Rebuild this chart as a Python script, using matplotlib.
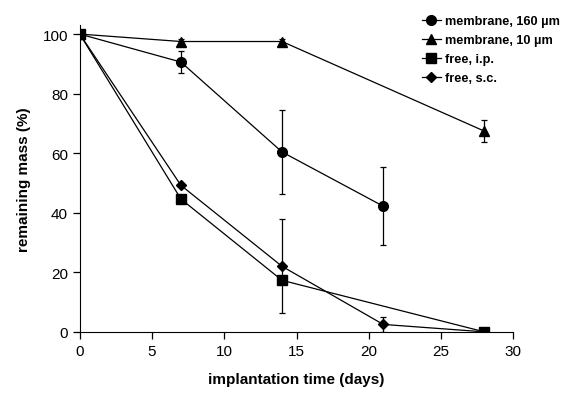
import matplotlib.pyplot as plt

plt.rcParams['font.family'] = ['Liberation Sans', 'DejaVu Sans']

# membrane, 160 um
days_m160 = [0, 7, 14, 21]
mass_m160 = [100, 90.6, 60.4, 42.2]
err_m160 = [0, 3.6, 14, 13]

# membrane, 10 um
days_m10 = [0, 7, 14, 28]
mass_m10 = [100, 97.5, 97.5, 67.4]
err_m10 = [0, 1, 1, 3.8]

# free, i.p.
days_ip = [0, 7, 14, 28]
mass_ip = [100, 44.6, 17.3, 0]
err_ip = [0, 1.2, 0, 0]

# free, s.c.
days_sc = [0, 7, 14, 21, 28]
mass_sc = [100, 49.2, 22, 2.5, 0]
err_sc = [0, 0, 15.8, 2.5, 0]

fig = plt.figure(figsize=(5.78, 4.02), dpi=100)
ax = fig.add_axes([0.138, 0.172, 0.75, 0.763])

series = [
    (days_m160, mass_m160, err_m160, 'o', 7, 'membrane, 160 µm'),
    (days_m10, mass_m10, err_m10, '^', 7, 'membrane, 10 µm'),
    (days_ip, mass_ip, err_ip, 's', 6.5, 'free, i.p.'),
    (days_sc, mass_sc, err_sc, 'D', 4.8, 'free, s.c.'),
]
for x, y, e, m, ms, lab in series:
    ax.errorbar(x, y, yerr=e, color='black', marker=m, markersize=ms,
                linewidth=0.9, elinewidth=0.9, capsize=2.5, capthick=0.9,
                label=lab)

ax.set_xlim(0, 30)
ax.set_ylim(0, 103)
ax.set_xticks([0, 5, 10, 15, 20, 25, 30])
ax.set_yticks([0, 20, 40, 60, 80, 100])
ax.spines['top'].set_visible(False)
ax.spines['right'].set_visible(False)
ax.tick_params(direction='out', length=5, labelsize=11, width=0.9)
ax.set_xlabel('implantation time (days)', fontsize=11, fontweight='bold', labelpad=10)
ax.set_ylabel('remaining mass (%)', fontsize=11, fontweight='bold', labelpad=8)

handles, labels = ax.get_legend_handles_labels()
handles = [h[0] for h in handles]
leg = fig.legend(handles, labels, loc='upper left', bbox_to_anchor=(0.71, 0.988),
                 frameon=False, handlelength=1.5, handletextpad=0.3,
                 labelspacing=0.55, prop={'weight': 'bold', 'size': 9.2})

fig.savefig('out.png', dpi=100)
